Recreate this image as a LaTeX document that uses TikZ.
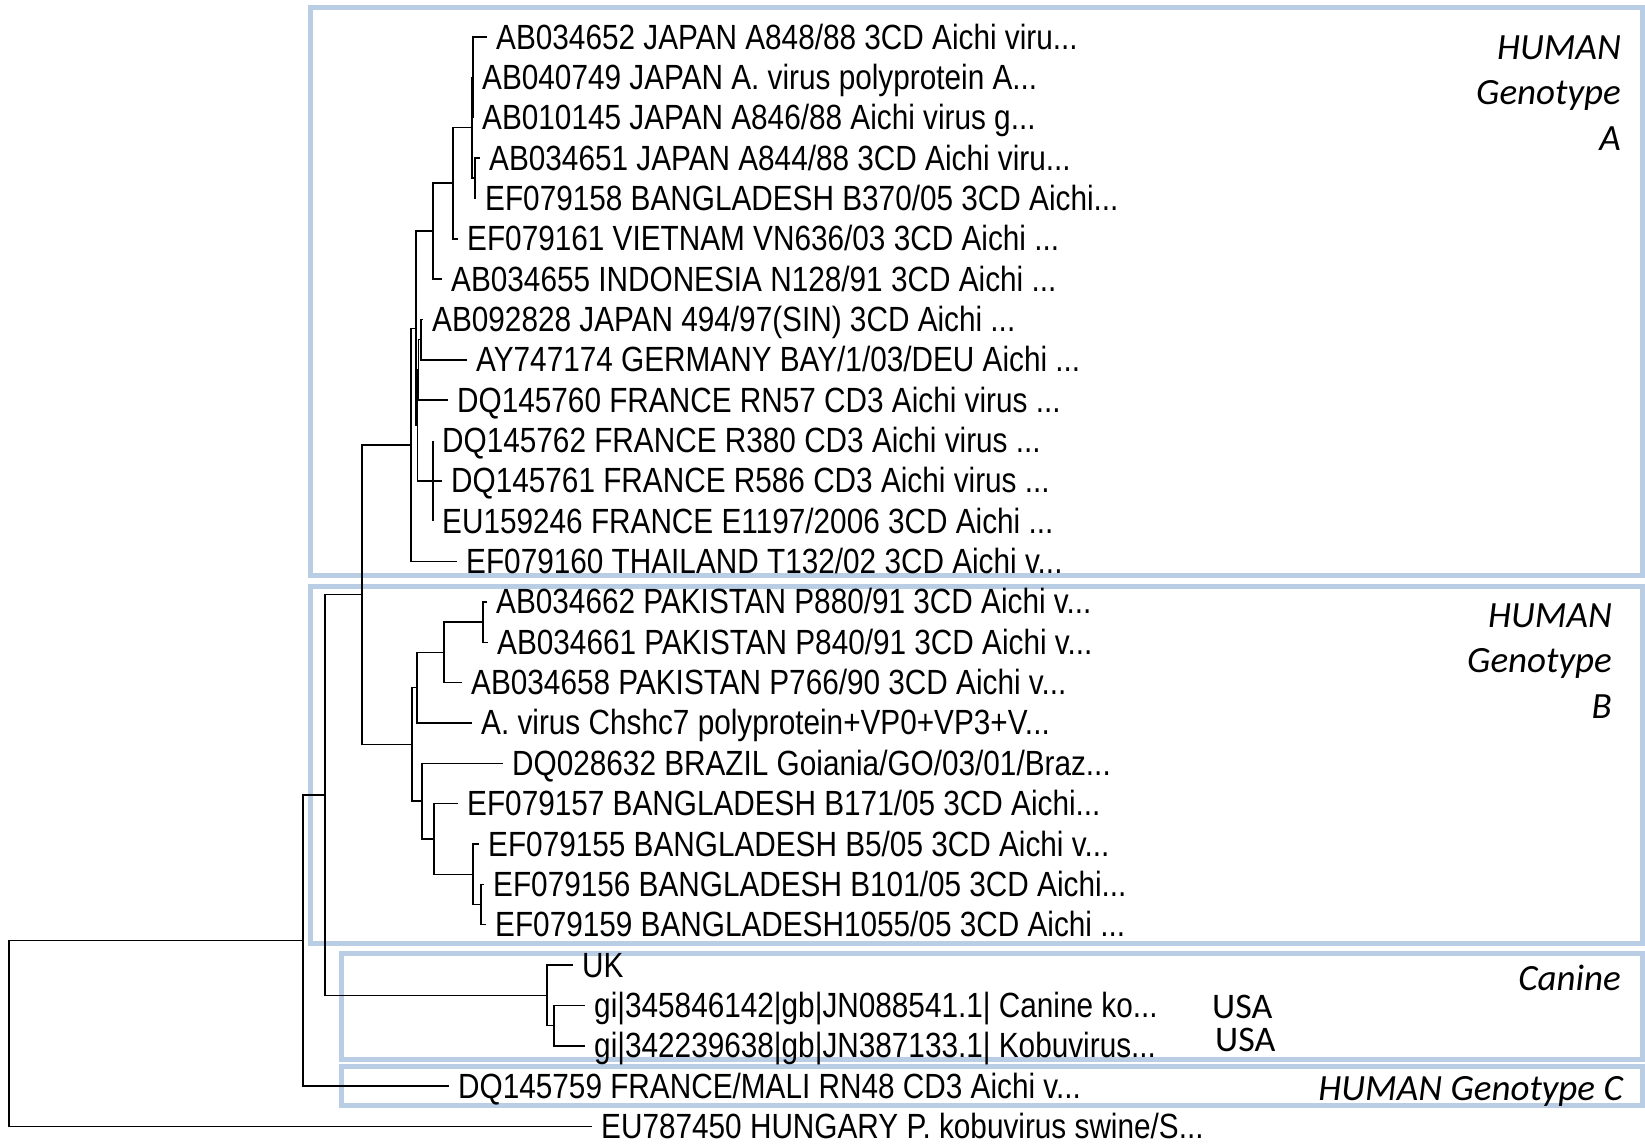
\documentclass[tikz,border=0pt]{standalone}
\usepackage{fontspec}
\newfontfamily\leaffont[FakeStretch=0.85]{Liberation Sans}
\newfontfamily\labfont{Carlito}
\definecolor{boxblue}{RGB}{185,205,229}
\begin{document}
\begin{tikzpicture}[x=1pt,y=-1pt,
  leaf/.style={anchor=west,inner xsep=9pt,inner ysep=0pt,text height=25pt,text depth=1pt,
    font=\leaffont\fontsize{35}{40}\selectfont},
  grp/.style={inner sep=0pt,font=\labfont\itshape\fontsize{37}{45.5}\selectfont},
  usa/.style={inner sep=0pt,anchor=base west,font=\labfont\fontsize{36}{40}\selectfont},
  branch/.style={draw=black,line width=1.5pt},
  grpbox/.style={draw=boxblue,line width=5pt}]
\useasboundingbox (0,0) rectangle (1645,1144);
% group boxes
\draw[grpbox] (310,7) rectangle (1642,575);
\draw[grpbox] (310,586) rectangle (1642,943);
\draw[grpbox] (341,953) rectangle (1642,1059);
\draw[grpbox] (341,1066) rectangle (1642,1105);
% group labels
\node[grp,align=right,anchor=east] (labA) at (1621,93) {HUMAN\\Genotype\\A};
\node[grp,align=right,anchor=east] (labB) at (1612,661) {HUMAN\\Genotype\\B};
\node[grp,anchor=base east] (labK) at (1621,990) {Canine};
\node[grp,anchor=base east] (labC) at (1623,1100) {HUMAN Genotype C};
\node[usa] (usa1) at (1212,1018) {USA};
\node[usa] (usa2) at (1215,1051) {USA};
% leaves
\node[leaf] (l1) at (487,37) {AB034652 JAPAN A848/88 3CD Aichi viru...};
\node[leaf] (l2) at (473,77.35) {AB040749 JAPAN A. virus polyprotein A...};
\node[leaf] (l3) at (473,117.7) {AB010145 JAPAN A846/88 Aichi virus g...};
\node[leaf] (l4) at (480,158.05) {AB034651 JAPAN A844/88 3CD Aichi viru...};
\node[leaf] (l5) at (476,198.4) {EF079158 BANGLADESH B370/05 3CD Aichi...};
\node[leaf] (l6) at (458,238.75) {EF079161 VIETNAM VN636/03 3CD Aichi ...};
\node[leaf] (l7) at (442,279.1) {AB034655 INDONESIA N128/91 3CD Aichi ...};
\node[leaf] (l8) at (423,319.45) {AB092828 JAPAN 494/97(SIN) 3CD Aichi ...};
\node[leaf] (l9) at (467,359.8) {AY747174 GERMANY BAY/1/03/DEU Aichi ...};
\node[leaf] (l10) at (448,400.15) {DQ145760 FRANCE RN57 CD3 Aichi virus ...};
\node[leaf] (l11) at (433,440.5) {DQ145762 FRANCE R380 CD3 Aichi virus ...};
\node[leaf] (l12) at (442,480.85) {DQ145761 FRANCE R586 CD3 Aichi virus ...};
\node[leaf] (l13) at (433,521.2) {EU159246 FRANCE E1197/2006 3CD Aichi ...};
\node[leaf] (l14) at (457,561.55) {EF079160 THAILAND T132/02 3CD Aichi v...};
\node[leaf] (l15) at (487,601.9) {AB034662 PAKISTAN P880/91 3CD Aichi v...};
\node[leaf] (l16) at (488,642.25) {AB034661 PAKISTAN P840/91 3CD Aichi v...};
\node[leaf] (l17) at (462,682.6) {AB034658 PAKISTAN P766/90 3CD Aichi v...};
\node[leaf] (l18) at (472,722.95) {A. virus Chshc7 polyprotein+VP0+VP3+V...};
\node[leaf] (l19) at (503,763.3) {DQ028632 BRAZIL Goiania/GO/03/01/Braz...};
\node[leaf] (l20) at (458,803.65) {EF079157 BANGLADESH B171/05 3CD Aichi...};
\node[leaf] (l21) at (479,844) {EF079155 BANGLADESH B5/05 3CD Aichi v...};
\node[leaf] (l22) at (484,884.35) {EF079156 BANGLADESH B101/05 3CD Aichi...};
\node[leaf] (l23) at (486,924.7) {EF079159 BANGLADESH1055/05 3CD Aichi ...};
\node[leaf] (l24) at (573,965.05) {UK};
\node[leaf] (l25) at (585,1005.4) {gi|345846142|gb|JN088541.1| Canine ko...};
\node[leaf] (l26) at (585,1045.75) {gi|342239638|gb|JN387133.1| Kobuvirus...};
\node[leaf] (l27) at (449,1086.1) {DQ145759 FRANCE/MALI RN48 CD3 Aichi v...};
\node[leaf] (l28) at (592,1126.45) {EU787450 HUNGARY P. kobuvirus swine/S...};
% internal nodes
\coordinate (na1) at (473,77.35);
\coordinate (na2) at (475,178.2);
\coordinate (na3) at (472,127.7);
\coordinate (na4) at (453,183.2);
\coordinate (na5) at (433,231.2);
\coordinate (nr0) at (421,339.6);
\coordinate (nr1) at (418.5,369.9);
\coordinate (nc) at (433,480.85);
\coordinate (nr2) at (417.5,425.4);
\coordinate (nq) at (416,328.3);
\coordinate (nA) at (411,444.9);
\coordinate (nb1) at (483,622.1);
\coordinate (nb2) at (444,652.4);
\coordinate (nb3) at (417,687.7);
\coordinate (nb4) at (481,904.5);
\coordinate (nb5) at (473,874.3);
\coordinate (nb6) at (434,839);
\coordinate (nb7) at (422,801.1);
\coordinate (nB) at (412,744.4);
\coordinate (nAB) at (362,594.7);
\coordinate (nk1) at (554,1025.6);
\coordinate (nK) at (547,995.3);
\coordinate (nABK) at (325,795);
\coordinate (nABKC) at (303,940.5);
\coordinate (nroot) at (9,1033.5);
% branches
\draw[branch] (na1) |- (l1.west) (na1) |- (l2.west) (na1) |- (l3.west);
\draw[branch] (na2) |- (l4.west) (na2) |- (l5.west);
\draw[branch] (na3) |- (na1) (na3) |- (na2);
\draw[branch] (na4) |- (na3) (na4) |- (l6.west);
\draw[branch] (na5) |- (na4) (na5) |- (l7.west);
\draw[branch] (nr0) |- (l8.west) (nr0) |- (l9.west);
\draw[branch] (nr1) |- (nr0) (nr1) |- (l10.west);
\draw[branch] (nc) |- (l11.west) (nc) |- (l12.west) (nc) |- (l13.west);
\draw[branch] (nr2) |- (nr1) (nr2) |- (nc);
\draw[branch] (nq) |- (na5) (nq) |- (nr2);
\draw[branch] (nA) |- (nq) (nA) |- (l14.west);
\draw[branch] (nb1) |- (l15.west) (nb1) |- (l16.west);
\draw[branch] (nb2) |- (nb1) (nb2) |- (l17.west);
\draw[branch] (nb3) |- (nb2) (nb3) |- (l18.west);
\draw[branch] (nb4) |- (l22.west) (nb4) |- (l23.west);
\draw[branch] (nb5) |- (l21.west) (nb5) |- (nb4);
\draw[branch] (nb6) |- (l20.west) (nb6) |- (nb5);
\draw[branch] (nb7) |- (l19.west) (nb7) |- (nb6);
\draw[branch] (nB) |- (nb3) (nB) |- (nb7);
\draw[branch] (nAB) |- (nA) (nAB) |- (nB);
\draw[branch] (nk1) |- (l25.west) (nk1) |- (l26.west);
\draw[branch] (nK) |- (l24.west) (nK) |- (nk1);
\draw[branch] (nABK) |- (nAB) (nABK) |- (nK);
\draw[branch] (nABKC) |- (nABK) (nABKC) |- (l27.west);
\draw[branch] (nroot) |- (nABKC) (nroot) |- (l28.west);
\end{tikzpicture}
\end{document}
